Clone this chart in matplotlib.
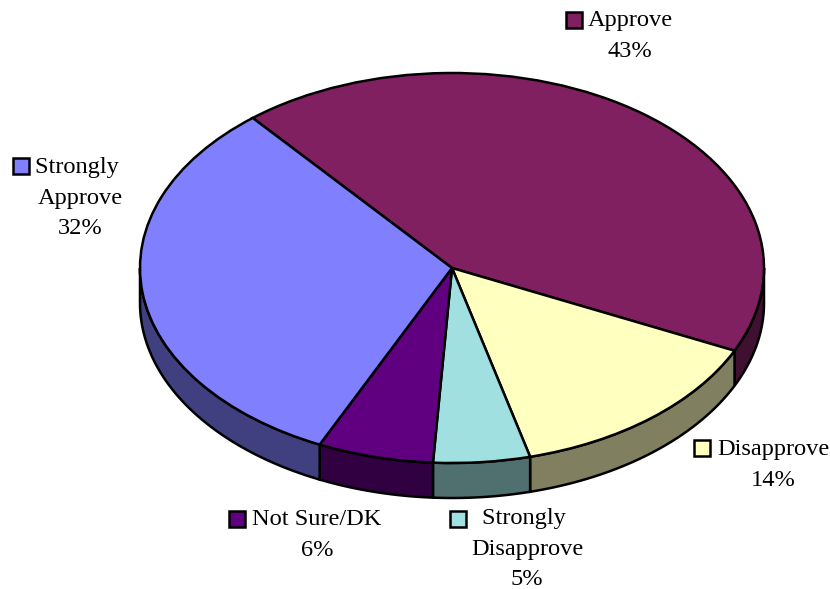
import numpy as np
import matplotlib
matplotlib.use("Agg")
import matplotlib.pyplot as plt

categories = ["Approve", "Disapprove", "Strongly\nDisapprove", "Not Sure/DK", "Strongly\nApprove"]
shares = [43, 14, 5, 6, 32]
top_colors = ["#802060", "#FFFFC0", "#A0E0E0", "#600080", "#8080FF"]
side_colors = ["#401030", "#808060", "#507070", "#300040", "#404080"]

W, H = 830, 589
CX, CY = 452, 268
RX, RY = 312, 195
DEPTH = 35 / RY
START = 129.7
LW = 1.8

plt.rcParams["font.family"] = ["Liberation Serif", "DejaVu Serif"]
fig = plt.figure(figsize=(W / 100, H / 100), dpi=100)
ax = fig.add_axes([0, 0, 1, 1])

wedges, _ = ax.pie(shares, colors=top_colors, startangle=START, counterclock=False,
                   wedgeprops={"edgecolor": "black", "linewidth": LW, "zorder": 5})
ax.set_aspect("auto")
ax.set_xlim(-CX / RX, (W - CX) / RX)
ax.set_ylim(-(H - CY) / RY, CY / RY)
ax.axis("off")

# side wall: the front part of each slice pushed down by DEPTH
a = START
for share, col in zip(shares, side_colors):
    b = a - share * 3.6
    for shift in (0, -360):
        lo = max(b + shift, -180)
        hi = min(a + shift, 0)
        if hi > lo:
            t = np.radians(np.linspace(hi, lo, 80))
            xs = np.r_[np.cos(t), np.cos(t)[::-1]]
            ys = np.r_[np.sin(t), np.sin(t)[::-1] - DEPTH]
            ax.fill(xs, ys, facecolor=col, edgecolor="black", linewidth=LW, zorder=2)
    a = b


def px(x, y):
    return x / W, 1 - y / H


FS = 17.6
# label text, block centre in pixels, index of the slice, legend key centre
labels = [
    ("Approve\n43%", (630, 36), 0, (574, 20)),
    ("Strongly \nApprove\n32%", (80, 198), 4, (21, 166)),
    ("Disapprove\n14%", (773, 465), 1, (702, 448)),
    ("Not Sure/DK\n6%", (317, 535), 3, (237, 519)),
    ("Strongly \nDisapprove\n5%", (527, 549), 2, (458, 519)),
]
for text, (lx, ly), idx, (kx, ky) in labels:
    x, y = px(lx, ly)
    fig.text(x, y, text, ha="center", va="center", fontsize=FS, linespacing=1.6)
    x0, y0 = px(kx - 8, ky + 8)
    fig.patches.append(plt.Rectangle((x0, y0), 16 / W, 16 / H, transform=fig.transFigure,
                                     facecolor=top_colors[idx], edgecolor="black", linewidth=LW))

fig.savefig("out.png", dpi=100)
